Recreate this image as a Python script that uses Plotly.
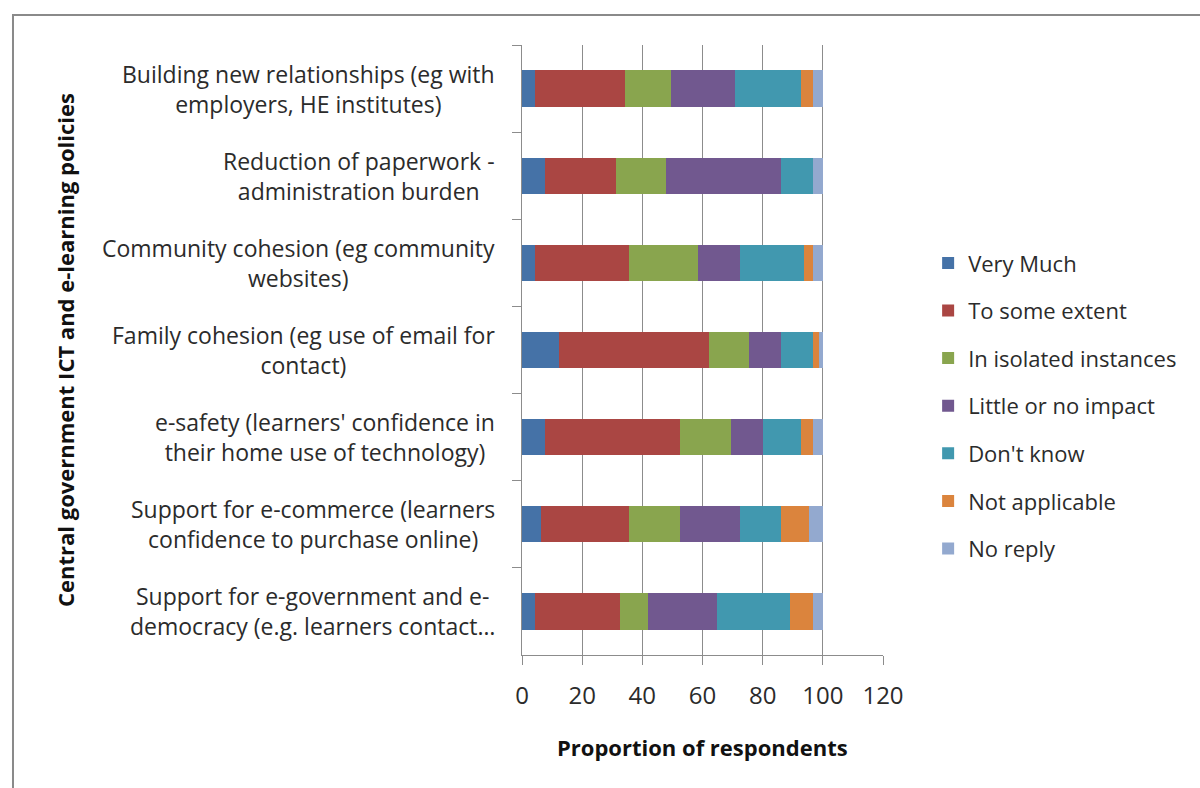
import plotly.graph_objects as go

# Policy areas, listed top to bottom
categories = [
    "Building new relationships (eg with<br>employers, HE institutes)",
    "Reduction of paperwork -<br>administration burden",
    "Community cohesion (eg community<br>websites)",
    "Family cohesion (eg use of email for<br>contact)",
    "e-safety (learners' confidence in<br>their home use of technology)",
    "Support for e-commerce (learners<br>confidence to purchase online)",
    "Support for e-government and e-<br>democracy (e.g. learners contact…",
]

# Percentage of respondents in each response band (per policy area)
very_much = [4.4, 7.8, 4.4, 12.2, 7.8, 6.2, 4.4]
to_some_extent = [29.8, 23.4, 31.1, 49.8, 44.8, 29.3, 28.2]
isolated_instances = [15.4, 16.6, 23.1, 13.5, 16.9, 17.1, 9.3]
little_or_no_impact = [21.3, 38.4, 14.0, 10.7, 10.7, 20.0, 23.0]
dont_know = [21.7, 10.6, 21.3, 10.6, 12.4, 13.6, 24.2]
not_applicable = [4.2, 0.0, 2.9, 1.8, 4.2, 9.3, 7.7]
no_reply = [3.2, 3.2, 3.2, 1.4, 3.2, 4.5, 3.2]

series_names = ["Very Much", "To some extent", "In isolated instances",
                "Little or no impact", "Don't know", "Not applicable", "No reply"]
series_values = [very_much, to_some_extent, isolated_instances,
                 little_or_no_impact, dont_know, not_applicable, no_reply]
series_colors = ["#4572A7", "#AA4643", "#89A54E", "#71588F",
                 "#4198AF", "#DB843D", "#93A9CF"]

x_ticks = [0, 20, 40, 60, 80, 100, 120]

FONT = "Open Sans"
TEXT = "#2b2b2b"
GRID = "#8c8c8c"

fig = go.Figure()
for name, vals, col in zip(series_names, series_values, series_colors):
    fig.add_trace(go.Bar(
        y=categories, x=vals, name=name, orientation="h",
        marker=dict(color=col, line=dict(width=0)),
        legendgroup=name,
    ))

# Category labels: centred multi-line text to the left of the axis
for cat in categories:
    fig.add_annotation(
        x=-0.068, xref="paper", y=cat, yref="y",
        text=cat, showarrow=False, xanchor="right", yanchor="middle",
        align="center", font=dict(family=FONT, size=23, color=TEXT),
    )

# Axis titles
fig.add_annotation(
    x=-1.266, xref="paper", y=0.5, yref="paper",
    text="<b>Central government ICT and e-learning policies</b>",
    textangle=-90, showarrow=False, xanchor="center", yanchor="middle",
    font=dict(family=FONT, size=22, color="#111"),
)
fig.add_annotation(
    x=0.5, xref="paper", y=-0.151, yref="paper",
    text="<b>Proportion of respondents</b>",
    showarrow=False, xanchor="center", yanchor="middle",
    font=dict(family=FONT, size=22, color="#111"),
)

# Outer chart frame
fig.add_shape(type="rect", xref="paper", yref="paper",
              x0=-1.41, x1=1.91, y0=-0.25, y1=1.049,
              line=dict(color="#8a8a8a", width=2), fillcolor="rgba(0,0,0,0)")

fig.update_layout(
    width=1200, height=788,
    barmode="stack", bargap=0.585,
    paper_bgcolor="white", plot_bgcolor="white",
    margin=dict(l=522, r=317, t=45, b=133),
    font=dict(family=FONT, size=23, color=TEXT),
    legend=dict(x=1.125, xanchor="left", y=0.408, yanchor="middle",
                tracegroupgap=16, font=dict(family=FONT, size=22, color=TEXT),
                itemwidth=30, bgcolor="rgba(0,0,0,0)"),
    xaxis=dict(range=[0, 120], tickvals=x_ticks, ticktext=[str(v) for v in x_ticks],
               showgrid=True, gridcolor=GRID, gridwidth=1,
               showline=True, linecolor=GRID, linewidth=1,
               ticks="outside", ticklen=9, tickcolor=GRID,
               ticklabelstandoff=10, zeroline=False,
               tickfont=dict(family=FONT, size=24, color=TEXT)),
    yaxis=dict(autorange="reversed", showticklabels=False,
               showline=True, linecolor=GRID, linewidth=1,
               ticks="outside", ticklen=9, tickcolor=GRID,
               tickson="boundaries", showgrid=False),
)

fig.write_html("out.html")
